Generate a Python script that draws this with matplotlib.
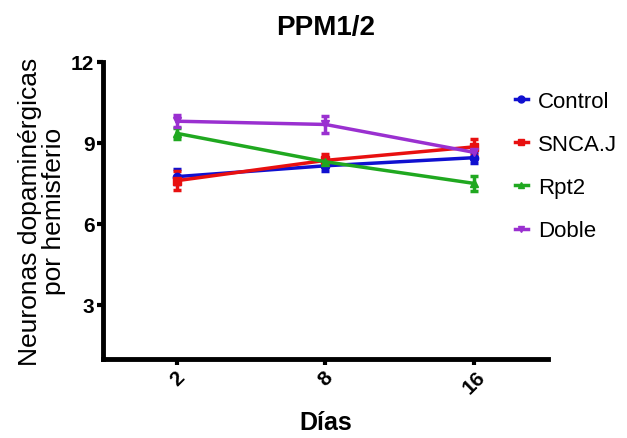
import matplotlib.pyplot as plt
from matplotlib.lines import Line2D
import numpy as np

dias = ['2', '8', '16']
grupos = ['Control', 'SNCA.J', 'Rpt2', 'Doble']
medias = {
    'Control': [7.75, 8.15, 8.45],
    'SNCA.J': [7.6, 8.35, 8.85],
    'Rpt2': [9.35, 8.3, 7.5],
    'Doble': [9.8, 9.68, 8.65],
}
errores = {
    'Control': [0.28, 0.2, 0.2],
    'SNCA.J': [0.35, 0.25, 0.3],
    'Rpt2': [0.2, 0.15, 0.28],
    'Doble': [0.22, 0.3, 0.22],
}
colores = {'Control': '#1010d0', 'SNCA.J': '#e81010', 'Rpt2': '#20a820', 'Doble': '#9a30d0'}
marcadores = {'Control': 'o', 'SNCA.J': 's', 'Rpt2': '^', 'Doble': 'v'}

plt.rcParams['font.family'] = ['Liberation Sans', 'DejaVu Sans']

fig = plt.figure(figsize=(6.27, 4.39), dpi=100)
ax = fig.add_axes([0.164, 0.18, 0.71, 0.677])
x = np.arange(len(dias))
for g in grupos:
    ax.errorbar(x, medias[g], yerr=errores[g], color=colores[g], marker=marcadores[g],
                markersize=6, linewidth=2.5, elinewidth=2.5, capsize=3, capthick=2.5)

ax.set_xlim(-0.5, 2.5)
ax.set_ylim(1, 12)
ax.set_yticks([3, 6, 9, 12])
ax.set_xticks(x)
ax.set_xticklabels(dias, rotation=45, fontweight='bold', fontsize=15)
for lbl in ax.get_yticklabels():
    lbl.set_fontweight('bold')
    lbl.set_fontsize(15)
for s in ['top', 'right']:
    ax.spines[s].set_visible(False)
for s in ['left', 'bottom']:
    ax.spines[s].set_linewidth(3.5)
ax.tick_params(width=3, length=4, pad=2)

ax.set_title('PPM1/2', fontsize=20, fontweight='bold', pad=20)
ax.set_xlabel('Días', fontsize=18, fontweight='bold', labelpad=9)
ax.set_ylabel('Neuronas dopaminérgicas\npor hemisferio', fontsize=19, labelpad=4,
              linespacing=1.0)

handles = [Line2D([], [], color=colores[g], marker=marcadores[g], markersize=5, linewidth=2.5)
           for g in grupos]
ax.legend(handles, grupos, loc='upper left', bbox_to_anchor=(0.88, 0.97), frameon=False,
          fontsize=16, handlelength=0.6, handletextpad=0.45, labelspacing=1.0)

fig.savefig('out.png', dpi=100)
